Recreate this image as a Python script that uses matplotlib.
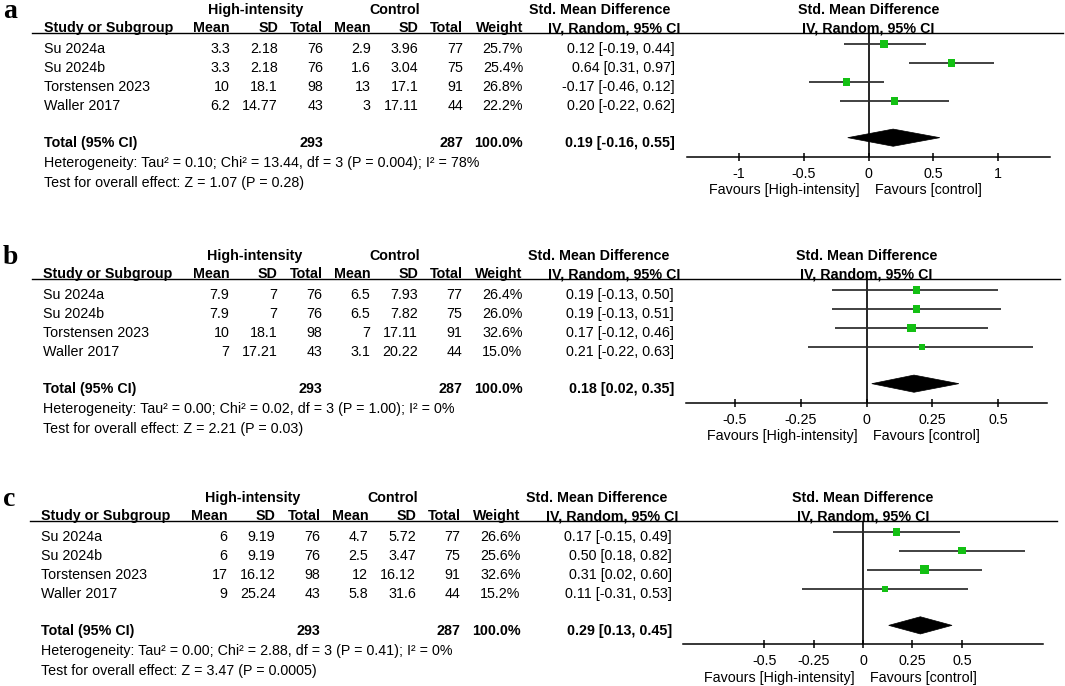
import numpy as np
import matplotlib
matplotlib.use("Agg")
import matplotlib.pyplot as plt
from matplotlib.lines import Line2D
from matplotlib.patches import Polygon

plt.rcParams['font.family'] = ['Liberation Sans', 'DejaVu Sans']

W, H = 1065, 686
FS = 10.25

studies = ["Su 2024a", "Su 2024b", "Torstensen 2023", "Waller 2017"]

# panel a
a_hi_mean = [3.3, 3.3, 10, 6.2]
a_hi_sd = [2.18, 2.18, 18.1, 14.77]
a_hi_n = [76, 76, 98, 43]
a_c_mean = [2.9, 1.6, 13, 3]
a_c_sd = [3.96, 3.04, 17.1, 17.11]
a_c_n = [77, 75, 91, 44]
a_weight = [25.7, 25.4, 26.8, 22.2]
a_smd = [0.12, 0.64, -0.17, 0.20]
a_lo = [-0.19, 0.31, -0.46, -0.22]
a_hi = [0.44, 0.97, 0.12, 0.62]
a_total = [0.19, -0.16, 0.55]
a_het = "Heterogeneity: Tau² = 0.10; Chi² = 13.44, df = 3 (P = 0.004); I² = 78%"
a_test = "Test for overall effect: Z = 1.07 (P = 0.28)"
a_ticks = [-1, -0.5, 0, 0.5, 1]
a_ticklabels = ["-1", "-0.5", "0", "0.5", "1"]

# panel b
b_hi_mean = [7.9, 7.9, 10, 7]
b_hi_sd = [7, 7, 18.1, 17.21]
b_hi_n = [76, 76, 98, 43]
b_c_mean = [6.5, 6.5, 7, 3.1]
b_c_sd = [7.93, 7.82, 17.11, 20.22]
b_c_n = [77, 75, 91, 44]
b_weight = [26.4, 26.0, 32.6, 15.0]
b_smd = [0.19, 0.19, 0.17, 0.21]
b_lo = [-0.13, -0.13, -0.12, -0.22]
b_hi = [0.50, 0.51, 0.46, 0.63]
b_total = [0.18, 0.02, 0.35]
b_het = "Heterogeneity: Tau² = 0.00; Chi² = 0.02, df = 3 (P = 1.00); I² = 0%"
b_test = "Test for overall effect: Z = 2.21 (P = 0.03)"
b_ticks = [-0.5, -0.25, 0, 0.25, 0.5]
b_ticklabels = ["-0.5", "-0.25", "0", "0.25", "0.5"]

# panel c
c_hi_mean = [6, 6, 17, 9]
c_hi_sd = [9.19, 9.19, 16.12, 25.24]
c_hi_n = [76, 76, 98, 43]
c_c_mean = [4.7, 2.5, 12, 5.8]
c_c_sd = [5.72, 3.47, 16.12, 31.6]
c_c_n = [77, 75, 91, 44]
c_weight = [26.6, 25.6, 32.6, 15.2]
c_smd = [0.17, 0.50, 0.31, 0.11]
c_lo = [-0.15, 0.18, 0.02, -0.31]
c_hi = [0.49, 0.82, 0.60, 0.53]
c_total = [0.29, 0.13, 0.45]
c_het = "Heterogeneity: Tau² = 0.00; Chi² = 2.88, df = 3 (P = 0.41); I² = 0%"
c_test = "Test for overall effect: Z = 3.47 (P = 0.0005)"
c_ticks = [-0.5, -0.25, 0, 0.25, 0.5]
c_ticklabels = ["-0.5", "-0.25", "0", "0.25", "0.5"]

total_weight = "100.0%"

panels = [
    dict(label="a", y0=9.0, dx=0.0, ax_x=(687, 1050), xlim=1.4, line_x=(31.7, 1063),
         hi_mean=a_hi_mean, hi_sd=a_hi_sd, hi_n=a_hi_n, c_mean=a_c_mean, c_sd=a_c_sd,
         c_n=a_c_n, weight=a_weight, smd=a_smd, lo=a_lo, hi=a_hi, total=a_total,
         het=a_het, test=a_test, ticks=a_ticks, ticklabels=a_ticklabels),
    dict(label="b", y0=255.0, dx=-0.5, ax_x=(686, 1047), xlim=0.684, line_x=(32, 1060),
         hi_mean=b_hi_mean, hi_sd=b_hi_sd, hi_n=b_hi_n, c_mean=b_c_mean, c_sd=b_c_sd,
         c_n=b_c_n, weight=b_weight, smd=b_smd, lo=b_lo, hi=b_hi, total=b_total,
         het=b_het, test=b_test, ticks=b_ticks, ticklabels=b_ticklabels),
    dict(label="c", y0=496.7, dx=-2.5, ax_x=(683, 1043), xlim=0.91, line_x=(30, 1057),
         hi_mean=c_hi_mean, hi_sd=c_hi_sd, hi_n=c_hi_n, c_mean=c_c_mean, c_sd=c_c_sd,
         c_n=c_c_n, weight=c_weight, smd=c_smd, lo=c_lo, hi=c_hi, total=c_total,
         het=c_het, test=c_test, ticks=c_ticks, ticklabels=c_ticklabels),
]

# column x positions (pixels)
X_STUDY = 43.5
X_HI_MEAN, X_HI_SD, X_HI_N = 230, 278, 323
X_C_MEAN, X_C_SD, X_C_N = 370.7, 418.5, 463
X_WEIGHT = 523
X_CI, X_CI_HEAD = 674.5, 680.5
X_HI_GROUP, X_C_GROUP, X_SMD_HEAD = 255.5, 395, 599.5

BASE = 5.1          # cap centre to baseline, pixels
ROW = 19.0          # row pitch, pixels

fig = plt.figure(figsize=(W / 100, H / 100), dpi=100)


def ftext(x, y, s, ha="left", bold=False, **kw):
    fig.text(x / W, 1 - (y + BASE) / H, s, ha=ha, va="baseline",
             fontsize=FS, fontweight="bold" if bold else "normal", **kw)


def fmt(v):
    return f"{v:g}"


for p in panels:
    y0, dx = p["y0"], p["dx"]

    # panel letter
    fig.text(3 / W, 1 - (y0 + 9) / H, p["label"], family="Liberation Serif",
             fontweight="bold", fontsize=20, va="baseline", ha="left")

    # header
    ftext(X_HI_GROUP + dx, y0, "High-intensity", ha="center", bold=True)
    ftext(X_C_GROUP + dx, y0, "Control", ha="center", bold=True)
    ftext(X_SMD_HEAD + dx, y0, "Std. Mean Difference", ha="center", bold=True)
    yh = y0 + 18.3
    ftext(X_STUDY + dx, yh, "Study or Subgroup", bold=True)
    for x, s in [(X_HI_MEAN, "Mean"), (X_HI_SD, "SD"), (X_HI_N, "Total"),
                 (X_C_MEAN, "Mean"), (X_C_SD, "SD"), (X_C_N, "Total"),
                 (X_WEIGHT, "Weight"), (X_CI_HEAD, "IV, Random, 95% CI")]:
        ftext(x + dx, yh, s, ha="right", bold=True)

    yl = 1 - (y0 + 24) / H
    fig.add_artist(Line2D([p["line_x"][0] / W, p["line_x"][1] / W], [yl, yl],
                          color="black", lw=1.0))

    # study rows
    for i, name in enumerate(studies):
        yr = y0 + 39.3 + ROW * i
        ftext(X_STUDY + dx, yr, name)
        ftext(X_HI_MEAN + dx, yr, fmt(p["hi_mean"][i]), ha="right")
        ftext(X_HI_SD + dx, yr, fmt(p["hi_sd"][i]), ha="right")
        ftext(X_HI_N + dx, yr, str(p["hi_n"][i]), ha="right")
        ftext(X_C_MEAN + dx, yr, fmt(p["c_mean"][i]), ha="right")
        ftext(X_C_SD + dx, yr, fmt(p["c_sd"][i]), ha="right")
        ftext(X_C_N + dx, yr, str(p["c_n"][i]), ha="right")
        ftext(X_WEIGHT + dx, yr, f"{p['weight'][i]:.1f}%", ha="right")
        ftext(X_CI + dx, yr, f"{p['smd'][i]:.2f} [{p['lo'][i]:.2f}, {p['hi'][i]:.2f}]",
              ha="right")

    # total row
    yt = y0 + 133.3
    est, tlo, thi = p["total"]
    ftext(X_STUDY + dx, yt, "Total (95% CI)", bold=True)
    ftext(X_HI_N + dx, yt, str(sum(p["hi_n"])), ha="right", bold=True)
    ftext(X_C_N + dx, yt, str(sum(p["c_n"])), ha="right", bold=True)
    ftext(X_WEIGHT + dx, yt, total_weight, ha="right", bold=True)
    ftext(X_CI + dx, yt, f"{est:.2f} [{tlo:.2f}, {thi:.2f}]", ha="right", bold=True)
    ftext(X_STUDY + dx, y0 + 152.7, p["het"])
    ftext(X_STUDY + dx, y0 + 172.7, p["test"])

    # forest plot axes: top at header line, bottom at x axis line
    x0, x1 = p["ax_x"]
    top, bot = y0 + 24, y0 + 147.5
    ax = fig.add_axes([x0 / W, 1 - bot / H, (x1 - x0) / W, (bot - top) / H])
    ax.patch.set_alpha(0)
    lim = p["xlim"]
    ax.set_xlim(-lim, lim)
    ax.set_ylim((bot - y0 - 35) / ROW, (top - y0 - 35) / ROW)
    for side in ("top", "left", "right"):
        ax.spines[side].set_visible(False)
    ax.spines["bottom"].set_linewidth(1.1)
    ax.set_yticks([])
    ax.set_xticks(p["ticks"])
    ax.set_xticklabels(p["ticklabels"])
    ax.tick_params(axis="x", direction="inout", length=6, width=1.1, pad=4.3,
                   labelsize=FS)

    rows = np.arange(len(studies))
    ax.axvline(0, color="black", lw=1.2, zorder=1)
    ax.hlines(rows, p["lo"], p["hi"], color="#2a2a2a", lw=1.25, zorder=2)
    side_pt = 1.5 * np.sqrt(np.array(p["weight"])) * 0.72
    ax.scatter(p["smd"], rows, s=side_pt ** 2, marker="s", color="#13c013",
               linewidths=0, zorder=3, clip_on=False)

    ytot, hh = 4.93, 8.6 / ROW
    ax.add_patch(Polygon([(tlo, ytot), (est, ytot - hh), (thi, ytot), (est, ytot + hh)],
                         closed=True, facecolor="black", edgecolor="black", lw=0.5,
                         zorder=3))

    # plot headers and favours labels, anchored on the zero line
    for txt, off in [("Std. Mean Difference", 18.9), ("IV, Random, 95% CI", 0.6)]:
        ax.annotate(txt, xy=(0, 1), xycoords=("data", "axes fraction"),
                    xytext=(0, off), textcoords="offset pixels", ha="center",
                    va="baseline", fontsize=FS, fontweight="bold")
    ax.annotate("Favours [High-intensity]", xy=(0, 0), xycoords=("data", "axes fraction"),
                xytext=(-8.5, -37.6), textcoords="offset pixels", ha="right",
                va="baseline", fontsize=FS)
    ax.annotate("Favours [control]", xy=(0, 0), xycoords=("data", "axes fraction"),
                xytext=(6.5, -37.6), textcoords="offset pixels", ha="left",
                va="baseline", fontsize=FS)

fig.savefig("out.png", dpi=100)
